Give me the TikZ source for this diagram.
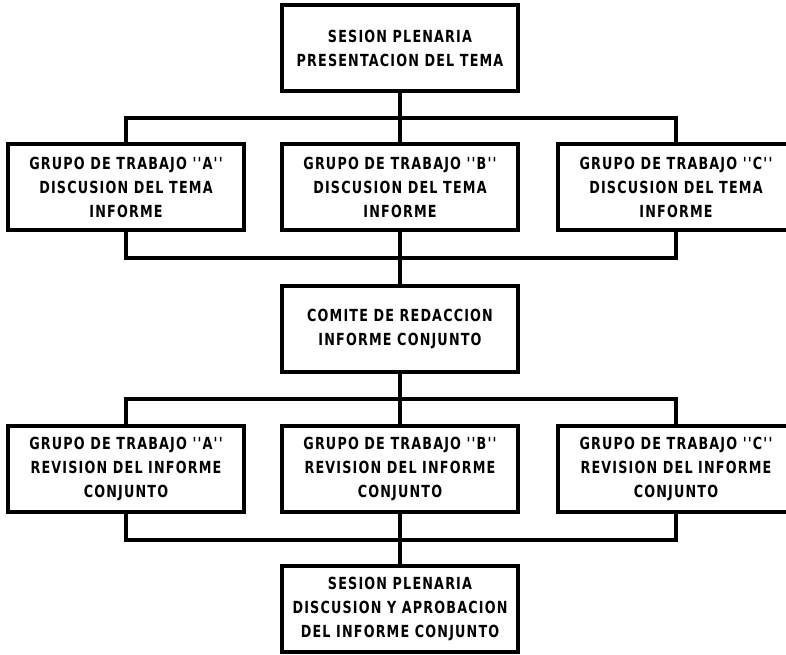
\documentclass[tikz,border=0pt]{standalone}
\usepackage{fontspec}
\newfontfamily\chartfont[LetterSpace=7,FakeStretch=0.85]{DejaVu Sans Condensed}
\usetikzlibrary{calc}

\tikzset{
  box/.style={draw, line width=2.5pt, minimum width=177pt, minimum height=64.5pt,
    inner sep=0pt, align=center, font=\chartfont\bfseries\fontsize{12.5}{18}\selectfont},
  link/.style={line width=2.3pt}
}

\begin{document}
\begin{tikzpicture}[x=0.75pt, y=-0.75pt]
\useasboundingbox (0,0) rectangle (786,654);
% plenaria
\node[box] (plen) at (400,48) {SESION PLENARIA\\PRESENTACION DEL TEMA};
% discusion en grupos
\node[box] (disA) at (126,187) {GRUPO DE TRABAJO ''A''\\DISCUSION DEL TEMA\\INFORME};
\node[box] (disB) at (400,187) {GRUPO DE TRABAJO ''B''\\DISCUSION DEL TEMA\\INFORME};
\node[box] (disC) at (676,187) {GRUPO DE TRABAJO ''C''\\DISCUSION DEL TEMA\\INFORME};
% redaccion
\node[box] (redac) at (400,329) {COMITE DE REDACCION\\INFORME CONJUNTO};
% revision en grupos
\node[box] (revA) at (126,469) {GRUPO DE TRABAJO ''A''\\REVISION DEL INFORME\\CONJUNTO};
\node[box] (revB) at (400,469) {GRUPO DE TRABAJO ''B''\\REVISION DEL INFORME\\CONJUNTO};
\node[box] (revC) at (676,469) {GRUPO DE TRABAJO ''C''\\REVISION DEL INFORME\\CONJUNTO};
% aprobacion
\node[box] (aprob) at (400,609) {SESION PLENARIA\\DISCUSION Y APROBACION\\DEL INFORME CONJUNTO};

\coordinate (busA) at (400,118);
\coordinate (busB) at (400,258);
\coordinate (busC) at (400,399);
\coordinate (busD) at (400,540);

\draw[link] (plen.south) -- (disB.north);
\draw[link] (disA.north) |- (busA) -| (disC.north);
\draw[link] (disA.south) |- (busB) -| (disC.south);
\draw[link] (disB.south) -- (redac.north);
\draw[link] (redac.south) -- (revB.north);
\draw[link] (revA.north) |- (busC) -| (revC.north);
\draw[link] (revA.south) |- (busD) -| (revC.south);
\draw[link] (revB.south) -- (aprob.north);
\end{tikzpicture}
\end{document}
